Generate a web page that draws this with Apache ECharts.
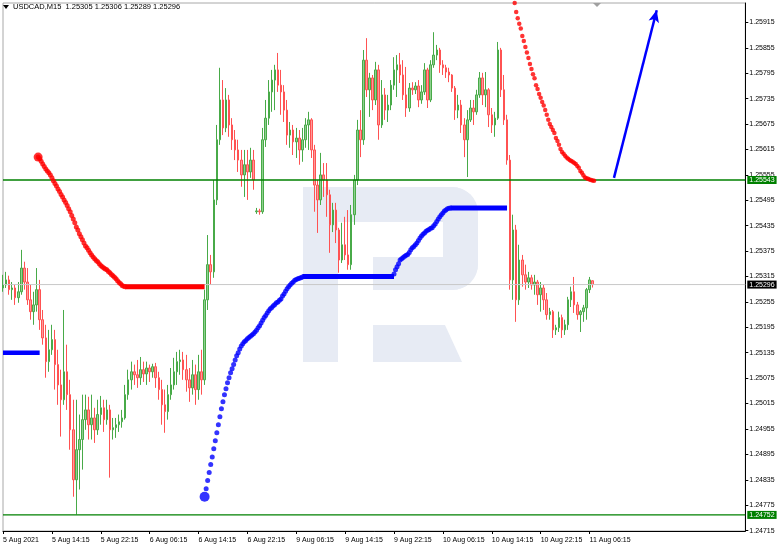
<!DOCTYPE html>
<html><head><meta charset="utf-8">
<script src="https://cdn.jsdelivr.net/npm/echarts@6/dist/echarts.min.js"></script>
<style>html,body{margin:0;padding:0;background:#fff}#c{width:782px;height:549px}</style>
</head><body><div id="c"></div><script>
// ---- time axis (M15 bars) ----
const xLabels = ['5 Aug 2021','5 Aug 14:15','5 Aug 22:15','6 Aug 06:15','6 Aug 14:15','6 Aug 22:15','9 Aug 06:15','9 Aug 14:15','9 Aug 22:15','10 Aug 06:15','10 Aug 14:15','10 Aug 22:15','11 Aug 06:15'];
const barsPerLabel = 32;
const totalBars = 487;
const candleStep = 2; // one drawn candle per two M15 bars
// ---- price axis ----
const yTicks = [1.24715,1.24775,1.24835,1.24895,1.24955,1.25015,1.25075,1.25135,1.25195,1.25255,1.25315,1.25375,1.25435,1.25495,1.25555,1.25615,1.25675,1.25735,1.25795,1.25855,1.25915];
const yMin = 1.24714, yMax = 1.25961;
// ---- candles ----
const open = [1.25288,1.25295,1.25307,1.25284,1.25288,1.25265,1.25279,1.25335,1.25302,1.25260,
1.25232,1.25248,1.25284,1.25213,1.25170,1.25114,1.25142,1.25166,1.25107,1.25059,
1.25024,1.25090,1.25036,1.24953,1.24835,1.24906,1.24930,1.24977,1.25000,1.24965,
1.24981,1.24953,1.24989,1.25005,1.24977,1.25000,1.24953,1.24958,1.24965,1.24972,
1.24981,1.25036,1.25071,1.25090,1.25083,1.25076,1.25095,1.25085,1.25099,1.25090,
1.25102,1.25076,1.25048,1.25012,1.24996,1.25036,1.25059,1.25090,1.25114,1.25118,
1.25095,1.25071,1.25052,1.25083,1.25048,1.25090,1.25071,1.25260,1.25343,1.25326,
1.25496,1.25638,1.25732,1.25666,1.25732,1.25673,1.25638,1.25614,1.25590,1.25555,
1.25579,1.25562,1.25590,1.25468,1.25470,1.25468,1.25638,1.25689,1.25751,1.25779,
1.25803,1.25767,1.25751,1.25708,1.25649,1.25661,1.25633,1.25642,1.25614,1.25638,
1.25673,1.25685,1.25614,1.25531,1.25496,1.25555,1.25543,1.25508,1.25437,1.25472,
1.25425,1.25354,1.25390,1.25366,1.25343,1.25461,1.25543,1.25661,1.25638,1.25826,
1.25756,1.25784,1.25732,1.25803,1.25673,1.25744,1.25708,1.25720,1.25767,1.25803,
1.25815,1.25791,1.25744,1.25713,1.25760,1.25756,1.25765,1.25732,1.25751,1.25803,
1.25732,1.25815,1.25838,1.25850,1.25815,1.25808,1.25798,1.25791,1.25760,1.25708,
1.25720,1.25673,1.25638,1.25685,1.25713,1.25704,1.25744,1.25784,1.25744,1.25756,
1.25697,1.25673,1.25689,1.25850,1.25756,1.25685,1.25590,1.25307,1.25425,1.25260,
1.25354,1.25319,1.25302,1.25312,1.25295,1.25302,1.25272,1.25288,1.25260,1.25225,
1.25232,1.25189,1.25194,1.25218,1.25189,1.25201,1.25260,1.25279,1.25248,1.25225,
1.25232,1.25241,1.25284,1.25305];
const close = [1.25295,1.25307,1.25284,1.25288,1.25265,1.25279,1.25335,1.25302,1.25260,1.25232,
1.25248,1.25284,1.25213,1.25170,1.25114,1.25142,1.25166,1.25107,1.25059,1.25024,
1.25090,1.25036,1.24953,1.24835,1.24906,1.24930,1.24977,1.25000,1.24965,1.24981,
1.24953,1.24989,1.25005,1.24977,1.25000,1.24953,1.24958,1.24965,1.24972,1.24981,
1.25036,1.25071,1.25090,1.25083,1.25076,1.25095,1.25085,1.25099,1.25090,1.25102,
1.25076,1.25048,1.25012,1.24996,1.25036,1.25059,1.25090,1.25114,1.25118,1.25095,
1.25071,1.25052,1.25083,1.25048,1.25090,1.25071,1.25260,1.25343,1.25326,1.25496,
1.25638,1.25732,1.25666,1.25732,1.25673,1.25638,1.25614,1.25590,1.25555,1.25579,
1.25562,1.25590,1.25543,1.25470,1.25468,1.25638,1.25689,1.25751,1.25779,1.25803,
1.25767,1.25751,1.25708,1.25649,1.25661,1.25633,1.25642,1.25614,1.25638,1.25673,
1.25685,1.25614,1.25531,1.25496,1.25555,1.25543,1.25508,1.25437,1.25472,1.25425,
1.25354,1.25390,1.25366,1.25343,1.25461,1.25543,1.25661,1.25638,1.25826,1.25756,
1.25784,1.25732,1.25803,1.25673,1.25744,1.25708,1.25720,1.25767,1.25803,1.25815,
1.25791,1.25744,1.25713,1.25760,1.25756,1.25765,1.25732,1.25751,1.25803,1.25732,
1.25815,1.25838,1.25850,1.25815,1.25808,1.25798,1.25791,1.25760,1.25708,1.25720,
1.25673,1.25638,1.25685,1.25713,1.25704,1.25744,1.25784,1.25744,1.25756,1.25697,
1.25673,1.25689,1.25850,1.25756,1.25685,1.25590,1.25307,1.25425,1.25260,1.25354,
1.25319,1.25302,1.25312,1.25295,1.25302,1.25272,1.25288,1.25260,1.25225,1.25232,
1.25189,1.25194,1.25218,1.25189,1.25201,1.25260,1.25279,1.25248,1.25225,1.25232,
1.25241,1.25284,1.25307,1.25296];
const high = [1.25319,1.25326,1.25317,1.25302,1.25295,1.25302,1.25378,1.25350,1.25335,1.25295,
1.25279,1.25335,1.25307,1.25236,1.25201,1.25189,1.25201,1.25189,1.25142,1.25095,
1.25236,1.25154,1.25071,1.25024,1.25024,1.24989,1.25036,1.25036,1.25031,1.25036,
1.25005,1.25024,1.25033,1.25024,1.25024,1.25012,1.24981,1.24981,1.24989,1.25000,
1.25059,1.25095,1.25114,1.25107,1.25118,1.25125,1.25114,1.25114,1.25107,1.25109,
1.25111,1.25090,1.25071,1.25048,1.25059,1.25099,1.25123,1.25137,1.25142,1.25137,
1.25130,1.25099,1.25118,1.25107,1.25130,1.25142,1.25284,1.25413,1.25366,1.25543,
1.25673,1.25808,1.25779,1.25760,1.25744,1.25689,1.25661,1.25638,1.25614,1.25614,
1.25614,1.25619,1.25614,1.25477,1.25475,1.25666,1.25732,1.25779,1.25803,1.25815,
1.25843,1.25803,1.25767,1.25732,1.25680,1.25673,1.25666,1.25661,1.25666,1.25689,
1.25704,1.25689,1.25626,1.25543,1.25607,1.25583,1.25583,1.25520,1.25489,1.25489,
1.25430,1.25442,1.25456,1.25472,1.25484,1.25555,1.25685,1.25708,1.25850,1.25878,
1.25796,1.25791,1.25822,1.25815,1.25779,1.25760,1.25744,1.25779,1.25833,1.25838,
1.25843,1.25826,1.25810,1.25772,1.25774,1.25774,1.25779,1.25767,1.25819,1.25808,
1.25826,1.25892,1.25862,1.25855,1.25826,1.25815,1.25808,1.25793,1.25765,1.25744,
1.25732,1.25689,1.25708,1.25732,1.25732,1.25756,1.25798,1.25796,1.25798,1.25760,
1.25713,1.25704,1.25869,1.25855,1.25791,1.25697,1.25602,1.25461,1.25437,1.25390,
1.25366,1.25343,1.25326,1.25319,1.25319,1.25307,1.25302,1.25295,1.25276,1.25241,
1.25236,1.25201,1.25232,1.25225,1.25213,1.25267,1.25291,1.25314,1.25255,1.25236,
1.25248,1.25288,1.25314,1.25306];
const low = [1.25279,1.25288,1.25272,1.25260,1.25248,1.25253,1.25272,1.25284,1.25248,1.25213,
1.25201,1.25232,1.25189,1.25154,1.25076,1.25090,1.25130,1.25048,1.25012,1.24937,
1.25012,1.25000,1.24906,1.24795,1.24753,1.24812,1.24859,1.24953,1.24930,1.24930,
1.24922,1.24941,1.24965,1.24948,1.24965,1.24840,1.24930,1.24934,1.24948,1.24958,
1.24977,1.25024,1.25048,1.25059,1.25052,1.25059,1.25066,1.25059,1.25066,1.25076,
1.25052,1.25024,1.24965,1.24946,1.24977,1.25024,1.25048,1.25059,1.25083,1.25071,
1.25043,1.25019,1.25036,1.25012,1.25024,1.25036,1.25059,1.25236,1.25295,1.25312,
1.25484,1.25626,1.25649,1.25656,1.25645,1.25614,1.25590,1.25562,1.25527,1.25503,
1.25496,1.25548,1.25520,1.25463,1.25461,1.25463,1.25621,1.25673,1.25704,1.25708,
1.25751,1.25697,1.25680,1.25626,1.25619,1.25602,1.25595,1.25579,1.25586,1.25619,
1.25614,1.25595,1.25468,1.25418,1.25484,1.25503,1.25456,1.25371,1.25420,1.25394,
1.25324,1.25347,1.25354,1.25331,1.25331,1.25437,1.25531,1.25597,1.25626,1.25739,
1.25692,1.25708,1.25720,1.25638,1.25666,1.25685,1.25680,1.25708,1.25756,1.25739,
1.25772,1.25732,1.25692,1.25704,1.25744,1.25746,1.25715,1.25723,1.25744,1.25713,
1.25727,1.25808,1.25826,1.25796,1.25791,1.25784,1.25774,1.25751,1.25685,1.25689,
1.25654,1.25597,1.25550,1.25680,1.25673,1.25697,1.25737,1.25720,1.25715,1.25668,
1.25654,1.25645,1.25685,1.25739,1.25673,1.25579,1.25284,1.25260,1.25208,1.25248,
1.25291,1.25284,1.25288,1.25284,1.25272,1.25248,1.25232,1.25236,1.25213,1.25213,
1.25170,1.25177,1.25184,1.25170,1.25177,1.25189,1.25243,1.25229,1.25213,1.25184,
1.25208,1.25213,1.25276,1.25289];
// ---- indicator: red (upper-left) ----
const redUpStart = 23;
const redUpDots = [1.25597,1.25593,1.25587,1.25581,1.25575,1.25569,1.25564,1.25560,1.25555,1.25548,
1.25541,1.25535,1.25529,1.25522,1.25516,1.25509,1.25503,1.25496,1.25490,1.25483,
1.25475,1.25468,1.25459,1.25451,1.25442,1.25432,1.25425,1.25416,1.25409,1.25402,
1.25394,1.25387,1.25383,1.25377,1.25371,1.25366,1.25361,1.25357,1.25353,1.25350,
1.25345,1.25341,1.25338,1.25335,1.25333,1.25331,1.25327,1.25324,1.25320,1.25317,
1.25313,1.25310,1.25305,1.25301,1.25298,1.25294,1.25292,1.25291];
const redUpFlatBars = [80, 132];
const redUpFlatValue = 1.25291;
// ---- indicator: blue ----
const blueLeftBars = [0, 24];
const blueLeftValue = 1.25135;
const blueStartBar = 132, blueStartValue = 1.24795;
const blueRise1Start = 133;
const blueRise1 = [1.24814,1.24833,1.24852,1.24871,1.24889,1.24908,1.24927,1.24946,1.24965,1.24984,
1.25003,1.25019,1.25036,1.25050,1.25064,1.25076,1.25088,1.25097,1.25107,1.25118,
1.25128,1.25135,1.25144,1.25151,1.25156,1.25161,1.25164,1.25168,1.25171,1.25174,
1.25177,1.25180,1.25184,1.25188,1.25194,1.25199,1.25205,1.25212,1.25218,1.25223,
1.25229,1.25234,1.25239,1.25242,1.25246,1.25249,1.25253,1.25255,1.25259,1.25262,
1.25269,1.25274,1.25280,1.25286,1.25291,1.25295,1.25299,1.25302,1.25306,1.25308,
1.25310,1.25311,1.25312,1.25314];
const blueMidBars = [196, 256];
const blueMidValue = 1.25315;
const blueRise2Start = 256;
const blueRise2 = [1.25321,1.25331,1.25338,1.25345,1.25354,1.25357,1.25360,1.25363,1.25365,1.25367,
1.25372,1.25378,1.25383,1.25386,1.25390,1.25394,1.25400,1.25406,1.25411,1.25415,
1.25418,1.25422,1.25424,1.25426,1.25429,1.25430,1.25435,1.25439,1.25445,1.25451,
1.25456,1.25461,1.25465,1.25470,1.25472,1.25475,1.25476,1.25477];
const blueTopBars = [293, 330];
const blueTopValue = 1.25477;
// ---- indicator: red (upper-right) ----
const redDownStart = 335;
const redDownDots = [1.25961,1.25940,1.25925,1.25912,1.25901,1.25883,1.25871,1.25857,1.25844,1.25831,
1.25817,1.25805,1.25793,1.25783,1.25767,1.25758,1.25746,1.25737,1.25727,1.25719,
1.25708,1.25697,1.25685,1.25675,1.25668,1.25661,1.25654,1.25642,1.25635,1.25626,
1.25616,1.25609,1.25605,1.25600,1.25596,1.25593,1.25590,1.25588,1.25586,1.25583,
1.25581,1.25576,1.25572,1.25564,1.25560,1.25554,1.25549,1.25547,1.25546,1.25544,
1.25543,1.25542,1.25541];
// ---- levels & forecast arrow ----
const resistance = 1.25543, support = 1.24752, bid = 1.25296;
const arrowFrom = [400, 1.25548], arrowTo = [428, 1.25944];
const title = 'USDCAD,M15  1.25305 1.25306 1.25289 1.25296';

// ---- build ----
const cats = [];
for (let j = 0; j < totalBars; j++) cats.push(String(j));
const candleData = open.map((o, i) => [i * candleStep, o, close[i], low[i], high[i]]);
const seq = (start, arr) => arr.map((v, k) => [start + k, v]);
const flat = (bars, v) => bars.map(b => [b, v]);
const FONT = 'Liberation Sans';
const RED = '#ff0000', BLUE = '#0000ff', GREEN = '#008000';

function levelSeries(v, lineColor, boxColor, width) {
  return {
    type: 'line', z: 4, symbol: 'none', silent: true, clip: false,
    data: [[0, v], [totalBars - 1, v]],
    lineStyle: {color: lineColor, width: width},
    endLabel: {show: true, formatter: v.toFixed(5), backgroundColor: boxColor, color: '#fff',
               fontSize: 7, fontFamily: FONT, padding: [1, 2, 0, 2], distance: 2}
  };
}

const chart = echarts.init(document.getElementById('c'), null, {renderer: 'canvas'});
const WM = '#e7ebf4';
chart.setOption({
  animation: false,
  backgroundColor: '#fff',
  grid: {left: 2.7, right: 36.7, top: 3, bottom: 18, containLabel: false, show: true,
         borderColor: '#a8a8a8', borderWidth: 1, backgroundColor: 'transparent'},
  xAxis: {
    type: 'category', data: cats, boundaryGap: false,
    axisLine: {show: true, lineStyle: {color: '#000', width: 1}},
    axisTick: {show: true, length: 3, lineStyle: {color: '#000'},
               interval: (i) => i % barsPerLabel === 0 && i / barsPerLabel < xLabels.length},
    axisLabel: {show: true, align: 'left', fontSize: 7, fontFamily: FONT, color: '#000', margin: 6,
               interval: (i) => i % barsPerLabel === 0 && i / barsPerLabel < xLabels.length,
               formatter: (v, i) => xLabels[i / barsPerLabel] || ''},
    splitLine: {show: false}
  },
  yAxis: {
    type: 'value', position: 'right', min: yMin, max: yMax, scale: true,
    axisLine: {show: true, lineStyle: {color: '#000', width: 1}},
    axisTick: {show: true, length: 3, customValues: yTicks, lineStyle: {color: '#000'}},
    axisLabel: {show: true, customValues: yTicks, formatter: (v) => Number(v).toFixed(5),
                fontSize: 7, fontFamily: FONT, color: '#000', margin: 4},
    splitLine: {show: false}
  },
  graphic: [
    {type: 'group', silent: true, z: -10, children: [
      {type: 'rect', shape: {x: 303, y: 187, width: 35, height: 175}, style: {fill: WM}},
      {type: 'rect', shape: {x: 303, y: 187, width: 175, height: 35, r: [0, 26, 0, 0]}, style: {fill: WM}},
      {type: 'rect', shape: {x: 443, y: 187, width: 35, height: 103, r: [0, 26, 26, 0]}, style: {fill: WM}},
      {type: 'rect', shape: {x: 373, y: 257, width: 105, height: 33, r: [0, 0, 26, 0]}, style: {fill: WM}},
      {type: 'polygon', shape: {points: [[373, 325], [445, 325], [462, 362], [373, 362]]}, style: {fill: WM}}
    ]},
    {type: 'polygon', silent: true, shape: {points: [[3, 5], [9, 5], [6, 9]]}, style: {fill: '#000'}},
    {type: 'text', silent: true, left: 13, top: 3, style: {text: title, fontSize: 7.5, fontFamily: FONT, fill: '#000'}},
    {type: 'polygon', silent: true, shape: {points: [[593, 3], [601, 3], [597, 7]]}, style: {fill: '#a0a0a0'}}
  ],
  series: [
    {
      type: 'candlestick', z: 3,
      dimensions: ['x', 'open', 'close', 'lowest', 'highest'],
      encode: {x: 'x', y: ['open', 'close', 'lowest', 'highest']},
      data: candleData, barWidth: 2,
      itemStyle: {color: '#8fd08f', color0: '#ff9a9a', borderColor: '#48aa48', borderColor0: '#ff5252', borderWidth: 1}
    },
    levelSeries(bid, '#c8c8c8', '#000', 1),
    levelSeries(resistance, GREEN, GREEN, 1.3),
    levelSeries(support, GREEN, GREEN, 1.3),
    {type: 'scatter', z: 5, symbol: 'circle', symbolSize: 5, itemStyle: {color: RED}, data: seq(redUpStart, redUpDots)},
    {type: 'scatter', z: 6, symbol: 'circle', symbolSize: 9, itemStyle: {color: RED}, data: [[redUpStart, redUpDots[0]]]},
    {type: 'line', z: 5, symbol: 'none', lineStyle: {color: RED, width: 5}, data: flat(redUpFlatBars, redUpFlatValue)},
    {type: 'line', z: 5, symbol: 'none', lineStyle: {color: BLUE, width: 4.5}, data: flat(blueLeftBars, blueLeftValue)},
    {type: 'scatter', z: 6, symbol: 'circle', symbolSize: 10, itemStyle: {color: BLUE}, data: [[blueStartBar, blueStartValue]]},
    {type: 'scatter', z: 5, symbol: 'circle', symbolSize: 5, itemStyle: {color: BLUE}, data: seq(blueRise1Start, blueRise1)},
    {type: 'line', z: 5, symbol: 'none', lineStyle: {color: BLUE, width: 5}, data: flat(blueMidBars, blueMidValue)},
    {type: 'scatter', z: 5, symbol: 'circle', symbolSize: 5, itemStyle: {color: BLUE}, data: seq(blueRise2Start, blueRise2)},
    {type: 'line', z: 5, symbol: 'none', lineStyle: {color: BLUE, width: 5}, data: flat(blueTopBars, blueTopValue),
     markLine: {silent: true, symbol: ['none', 'arrow'], symbolSize: [8, 12], animation: false, label: {show: false},
                lineStyle: {color: BLUE, width: 2.5, type: 'solid'},
                data: [[{coord: arrowFrom}, {coord: arrowTo}]]}},
    {type: 'scatter', z: 5, symbol: 'circle', symbolSize: 4.5, itemStyle: {color: RED}, data: seq(redDownStart, redDownDots)}
  ]
});
</script></body></html>
